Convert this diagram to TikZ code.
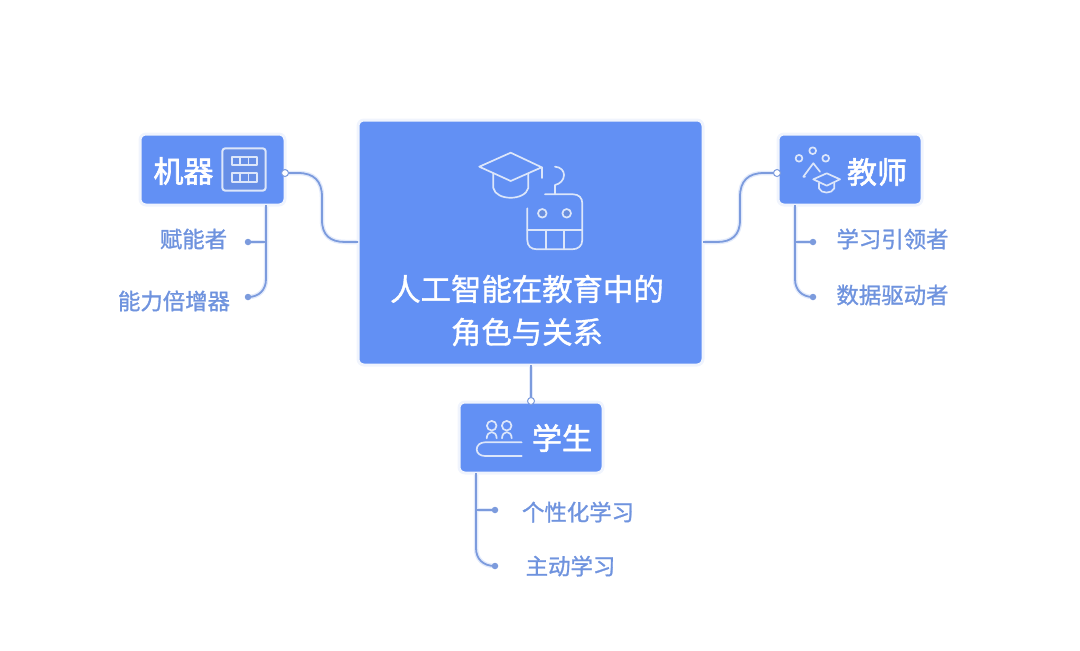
\documentclass[tikz,border=0pt]{standalone}
\usepackage{fontspec}
\newfontfamily\cjkm[FakeBold=1.2]{Noto Sans CJK SC}
\newfontfamily\cjkh[FakeBold=2.0]{Noto Sans CJK SC}
\definecolor{boxblue}{HTML}{6290F4}
\definecolor{halo}{HTML}{F0F4FD}
\definecolor{linkblue}{HTML}{7C9BDD}
\definecolor{glow}{HTML}{E2EAFB}
\definecolor{subtext}{HTML}{6F93DE}
\definecolor{icon}{HTML}{DCE6FA}
\tikzset{
  boxnode/.style={draw=halo,line width=3pt,fill=boxblue,rounded corners=6pt,inner sep=0pt,outer sep=0pt},
  headtext/.style={text=white,font=\cjkh\fontsize{30}{36}\selectfont,inner sep=0pt},
  titletext/.style={text=white,font=\cjkm\fontsize{30.4}{43}\selectfont,align=center,inner sep=0pt},
  subtextnode/.style={text=subtext,font=\cjkm\fontsize{22.4}{26}\selectfont,inner sep=0pt},
  halolink/.style={draw=glow,line width=4.5pt,line cap=round,line join=round},
  corelink/.style={draw=linkblue,line width=1.8pt,line cap=butt,line join=round},
  iconline/.style={draw=icon,line width=1.7pt,line cap=round,line join=round},
  iconthick/.style={draw=icon,line width=2pt,line cap=round,line join=round},
  enddot/.style={circle,fill=linkblue,inner sep=0pt,minimum size=6.5pt},
  ringdot/.style={circle,fill=white,draw=linkblue,line width=1pt,inner sep=0pt,minimum size=7pt}
}
\begin{document}
\begin{tikzpicture}[x=1pt,y=-1pt]
\useasboundingbox (0,0) rectangle (1080,651);
% connector end points
\coordinate (mdot) at (285,173);
\coordinate (cl) at (358,242);
\coordinate (tdot) at (777,173);
\coordinate (cr) at (703,242);
\coordinate (cb) at (531,365);
\coordinate (sdot) at (531,401);
\coordinate (mt) at (266,205);
\coordinate (tt) at (795,205);
\coordinate (st) at (476,473);
\coordinate (m1) at (248,242);
\coordinate (m2) at (248,297);
\coordinate (t1) at (813,242);
\coordinate (t2) at (813,297);
\coordinate (s1) at (495,510);
\coordinate (s2) at (495,566);
\newcommand{\linkset}[1]{%
  \path[#1] (mdot) -- (298,173) .. controls (314,173) and (322,181) .. (322,197) -- (322,220) .. controls (322,235) and (330,242) .. (345,242) -- (cl);
  \path[#1] (tdot) -- (764,173) .. controls (748,173) and (740,181) .. (740,197) -- (740,220) .. controls (740,235) and (732,242) .. (717,242) -- (cr);
  \path[#1] (cb) -- (sdot);
  \path[#1] (mt) -- (266,279) .. controls (266,290) and (259,297) .. (m2);
  \path[#1] (266,242) -- (m1);
  \path[#1] (tt) -- (795,279) .. controls (795,290) and (802,297) .. (t2);
  \path[#1] (795,242) -- (t1);
  \path[#1] (st) -- (476,548) .. controls (476,559) and (483,566) .. (s2);
  \path[#1] (476,510) -- (s1);
}
\linkset{halolink}
% boxes
\node[boxnode,minimum width=345pt,minimum height=245pt] (core) at (530.5,242.5) {};
\node[boxnode,minimum width=145pt,minimum height=71pt] (mach) at (212.5,169.5) {};
\node[boxnode,minimum width=144pt,minimum height=71pt] (teach) at (850,169.5) {};
\node[boxnode,minimum width=144pt,minimum height=71pt] (stud) at (531,437.5) {};
\linkset{corelink}
\foreach \d in {m1,m2,t1,t2,s1,s2}{ \node[enddot] (dot\d) at (\d) {}; }
\node[ringdot] (rm) at (mdot) {};
\node[ringdot] (rt) at (tdot) {};
\node[ringdot] (rs) at (sdot) {};
% texts
\node[titletext] (title) at (527,310.5) {人工智能在教育中的\\角色与关系};
\node[headtext] (lm) at (183.5,171) {机器};
\node[headtext] (lt) at (877,172) {教师};
\node[headtext] (ls) at (562,438) {学生};
\node[subtextnode] (a1) at (193.5,239) {赋能者};
\node[subtextnode] (a2) at (174,301) {能力倍增器};
\node[subtextnode] (b1) at (892.5,239) {学习引领者};
\node[subtextnode] (b2) at (892.5,295) {数据驱动者};
\node[subtextnode] (c1) at (578,512) {个性化学习};
\node[subtextnode] (c2) at (570.5,566) {主动学习};
% central icon: cap
\draw[iconline] (479.3,166.7) -- (510.7,152.7) -- (541.7,167.3) -- (510.7,181) -- cycle;
\draw[iconline] (493.3,173.5) -- (493.3,188) .. controls (496,201) and (525,201) .. (528.3,188) -- (528.3,173.5);
\draw[iconline] (541.7,167.3) -- (541.7,178);
% central icon: robot
\draw[iconline] (555,166.7) .. controls (561,167) and (564,171) .. (564,175) .. controls (564,180) and (560,184) .. (555,185) -- (555,194.3);
\draw[iconline] (545,194.3) -- (573,194.3) .. controls (579,194.3) and (582.3,198) .. (582.3,203.3) -- (582.3,240) .. controls (582.3,246) and (578,249.3) .. (572,249.3) -- (537,249.3) .. controls (531,249.3) and (527.3,246) .. (527.3,240) -- (527.3,208.3);
\draw[iconline] (527.3,230) -- (582.3,230);
\draw[iconline] (545.7,230) -- (545.7,249.3);
\draw[iconline] (564,230) -- (564,249.3);
\draw[iconline,fill=boxblue!80!gray] (542.3,213.3) circle[radius=4.3];
\draw[iconline,fill=boxblue!80!gray] (566.7,213.3) circle[radius=4.3];
% machine icon
\draw[iconthick,rounded corners=3pt,fill=boxblue!88!gray] (222.3,148.3) rectangle (265.7,190.7);
\draw[iconline] (231.7,157.3) rectangle (256.7,165);
\draw[iconline] (231.7,172.7) rectangle (256.7,181.7);
\foreach \vx in {240,248.4}{
  \draw[iconline] (\vx,157.3) -- (\vx,165);
  \draw[iconline] (\vx,172.7) -- (\vx,181.7);
}
% teacher icon
\draw[iconline] (799,158.3) circle[radius=3.4];
\draw[iconline] (812.7,150.7) circle[radius=3.4];
\draw[iconline] (825.7,158.3) circle[radius=3.4];
\draw[iconline] (805,176.7) -- (803.3,176.7) -- (813.3,163.3) -- (820,171.7);
\draw[iconline] (813.3,179.3) -- (826.7,173.3) -- (840,179.3) -- (826.7,185.7) -- cycle;
\draw[iconline] (819,183.3) -- (819,188.3) .. controls (821,194) and (832,194) .. (834.3,188.3) -- (834.3,183.3);
% student icon
\draw[iconline] (491.7,425.7) circle[radius=4.8];
\draw[iconline] (506.7,425.7) circle[radius=4.8];
\draw[iconline] (486.7,438.3) .. controls (487,430) and (496.5,430) .. (496.7,438.3);
\draw[iconline] (502,438.3) .. controls (502.3,430) and (511.5,430) .. (511.7,438.3);
\draw[iconline] (521.7,442.3) -- (485,442.3) .. controls (480,442.3) and (476.7,445.5) .. (476.7,449.3) .. controls (476.7,453) and (480,456) .. (485,456) -- (521.7,456);
\end{tikzpicture}
\end{document}
